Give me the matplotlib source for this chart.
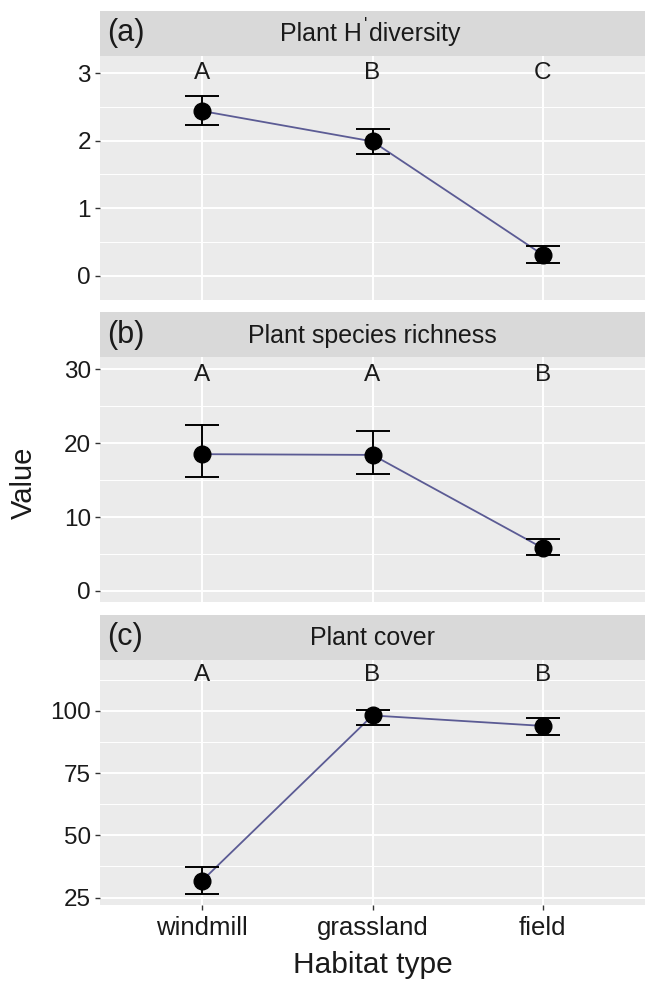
import matplotlib
matplotlib.use("Agg")
import matplotlib.pyplot as plt
from matplotlib.ticker import MultipleLocator

plt.rcParams["font.family"] = ["Liberation Sans", "DejaVu Sans"]

# data
habitats = ["windmill", "grassland", "field"]

diversity_mean = [2.44, 1.99, 0.31]
diversity_lo = [2.23, 1.81, 0.19]
diversity_hi = [2.66, 2.17, 0.44]
diversity_letters = ["A", "B", "C"]

richness_mean = [18.5, 18.4, 5.8]
richness_lo = [15.4, 15.8, 4.8]
richness_hi = [22.5, 21.7, 7.0]
richness_letters = ["A", "A", "B"]

cover_mean = [31.8, 98.2, 94.0]
cover_lo = [26.5, 94.3, 90.3]
cover_hi = [37.1, 100.3, 97.3]
cover_letters = ["A", "B", "B"]

panels = [
    ("(a)", None, diversity_mean, diversity_lo, diversity_hi,
     diversity_letters, 3.0, (-0.36, 3.26), 1, 0.5),
    ("(b)", "Plant species richness", richness_mean, richness_lo, richness_hi,
     richness_letters, 29.2, (-1.45, 31.6), 10, 5),
    ("(c)", "Plant cover", cover_mean, cover_lo, cover_hi,
     cover_letters, 114.3, (22.0, 120.5), 25, 12.5),
]

W, H = 646, 981
fig = plt.figure(figsize=(W / 100, H / 100), dpi=100)

LEFT, RIGHT = 100, 645
# (panel top px, panel bottom px)
boxes = [(55.7, 300.0), (357.3, 601.7), (660.0, 905.0)]
STRIP_H = 45

PANEL_BG = "#EBEBEB"
STRIP_BG = "#D9D9D9"
LINE_COL = "#5B5B94"
TXT = "#1A1A1A"

x = [1, 2, 3]

for i, (tag, title, mean, lo, hi, letters, ly, ylim, major, minor) in enumerate(panels):
    top, bot = boxes[i]
    ax = fig.add_axes([LEFT / W, 1 - bot / H, (RIGHT - LEFT) / W, (bot - top) / H])
    ax.set_facecolor(PANEL_BG)
    for s in ax.spines.values():
        s.set_visible(False)
    ax.set_xlim(0.4, 3.6)
    ax.set_ylim(*ylim)
    ax.yaxis.set_major_locator(MultipleLocator(major))
    ax.yaxis.set_minor_locator(MultipleLocator(minor))
    ax.set_xticks(x)
    ax.grid(which="major", color="white", lw=1.4)
    ax.grid(which="minor", axis="y", color="white", lw=0.7)
    ax.set_axisbelow(True)
    ax.tick_params(axis="y", which="minor", length=0)
    ax.tick_params(which="major", length=3.6, width=1.0, color="#333333",
                   labelsize=17.5, labelcolor=TXT, pad=3)

    if i < 2:
        ax.set_xticklabels([])
        ax.tick_params(axis="x", length=0)
    else:
        ax.set_xticklabels(habitats, fontsize=18.5)
        ax.tick_params(axis="x", pad=4)

    ax.plot(x, mean, color=LINE_COL, lw=1.3, zorder=2)
    yerr = [[m - l for m, l in zip(mean, lo)], [h - m for m, h in zip(mean, hi)]]
    ax.errorbar(x, mean, yerr=yerr, fmt="none", ecolor="black", elinewidth=1.4,
                capsize=12, capthick=1.4, zorder=3)
    ax.plot(x, mean, "o", color="black", ms=12, zorder=4)
    for xi, lt in zip(x, letters):
        ax.text(xi, ly, lt, ha="center", va="center", fontsize=17.5, color=TXT)

    # strip
    sax = fig.add_axes([LEFT / W, 1 - top / H, (RIGHT - LEFT) / W, STRIP_H / H])
    sax.set_facecolor(STRIP_BG)
    sax.set_xticks([])
    sax.set_yticks([])
    for s in sax.spines.values():
        s.set_visible(False)
    if title is not None:
        sax.text(0.5, 0.48, title, ha="center", va="center", fontsize=18,
                 color=TXT, transform=sax.transAxes)
    else:
        # "Plant H'diversity" with a raised prime, pieced together
        ymid = 1 - (top - STRIP_H / 2 + 1) / H
        fig.text(362 / W, ymid, "Plant H", ha="right", va="center",
                 fontsize=18, color=TXT)
        fig.text(366 / W, 1 - (top - STRIP_H / 2 - 8) / H, "'", ha="center",
                 va="center", fontsize=13, color=TXT)
        fig.text(369 / W, ymid, "diversity", ha="left", va="center",
                 fontsize=18, color=TXT)
    sax.text(0.013, 0.5, tag, ha="left", va="center", fontsize=22, color=TXT,
             transform=sax.transAxes)

fig.text(24 / W, 1 - 483 / H, "Value", rotation=90, ha="center", va="center",
         fontsize=21, color=TXT)
fig.text((LEFT + RIGHT) / 2 / W, 1 - 965 / H, "Habitat type", ha="center",
         va="center", fontsize=21.5, color=TXT)

fig.savefig("out.png", dpi=100)
